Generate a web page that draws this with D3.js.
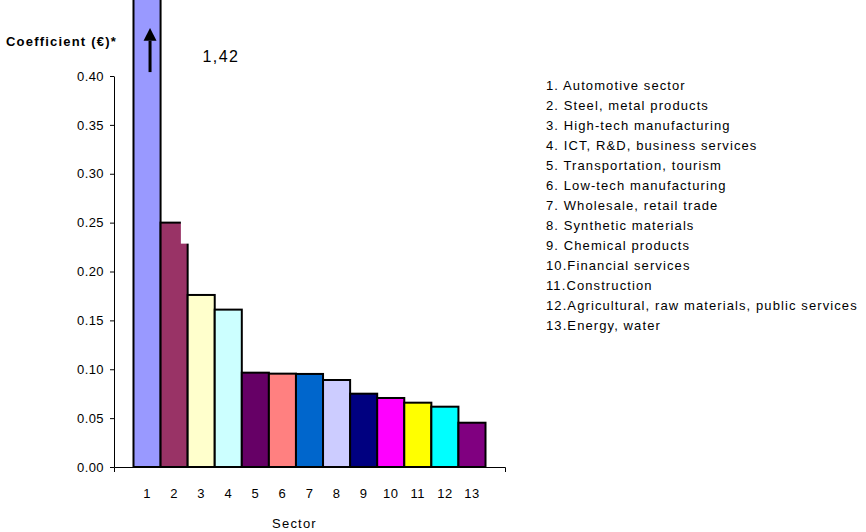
<!DOCTYPE html>
<html>
<head>
<meta charset="utf-8">
<script src="https://cdn.jsdelivr.net/npm/d3@7"></script>
<style>
  html, body { margin: 0; padding: 0; background: #fff; }
  svg { display: block; font-family: "Liberation Sans", Arial, sans-serif; }
</style>
</head>
<body>
<svg id="chart" width="866" height="532"></svg>
<script>
// ---- data ----
const sectors = ["1","2","3","4","5","6","7","8","9","10","11","12","13"];
const values = [1.42, 0.25, 0.176, 0.161, 0.0965, 0.0955, 0.0952, 0.089, 0.075, 0.0706, 0.0658, 0.0617, 0.0453];
const colors = ["#9999FF","#993366","#FFFFCC","#CCFFFF","#660066","#FF8080","#0066CC","#CCCCFF","#000080","#FF00FF","#FFFF00","#00FFFF","#800080"];
const legendLabels = [
  "1. Automotive sector",
  "2. Steel, metal products",
  "3. High-tech manufacturing",
  "4. ICT, R&D, business services",
  "5. Transportation, tourism",
  "6. Low-tech manufacturing",
  "7. Wholesale, retail trade",
  "8. Synthetic materials",
  "9. Chemical products",
  "10.Financial services",
  "11.Construction",
  "12.Agricultural, raw materials, public services",
  "13.Energy, water"
];
const yTicks = [0, 0.05, 0.10, 0.15, 0.20, 0.25, 0.30, 0.35, 0.40];
const yTitle = "Coefficient (€)*";
const xTitle = "Sector";
const bigValueLabel = "1,42";

// ---- layout ----
const svg = d3.select("#chart");
const x = d3.scaleBand().domain(sectors).range([114, 505]).paddingInner(0).paddingOuter(0.72);
const y = d3.scaleLinear().domain([0, 0.40]).range([467, 76]);
const bw = x.bandwidth();

// bars
svg.append("g").selectAll("rect").data(values).join("rect")
  .attr("x", (d, i) => x(sectors[i]))
  .attr("y", d => y(d))
  .attr("width", bw)
  .attr("height", d => y(0) - y(d))
  .attr("fill", (d, i) => colors[i])
  .attr("stroke", "#000")
  .attr("stroke-width", 2);

// white patch covering the top-right corner of bar 2 (as in the original)
svg.append("rect")
  .attr("x", x("2") + bw * 0.75)
  .attr("y", y(values[1]) - 2)
  .attr("width", bw * 0.25 + 1.5)
  .attr("height", y(0.2285) - y(values[1]) + 2)
  .attr("fill", "#fff");

// y axis
const yAxis = svg.append("g").attr("transform", "translate(114,0)")
  .call(d3.axisLeft(y).tickValues(yTicks).tickFormat(d3.format(".2f")).tickSizeInner(4).tickSizeOuter(0).tickPadding(6));
yAxis.selectAll("text").attr("font-size", 13).attr("fill", "#000").attr("font-family", "Liberation Sans, Arial, sans-serif").style("letter-spacing", "0.4px");
yAxis.select(".domain").attr("stroke", "#000");

// x axis
const xAxis = svg.append("g").attr("transform", "translate(0,467)")
  .call(d3.axisBottom(x).tickSizeInner(0).tickSizeOuter(5).tickPadding(22));
xAxis.selectAll("text").attr("font-size", 13).attr("fill", "#000").attr("font-family", "Liberation Sans, Arial, sans-serif").style("letter-spacing", "0.5px");
xAxis.select(".domain").attr("stroke", "#000");

// axis titles
svg.append("text").attr("x", 6).attr("y", 46)
  .attr("font-size", 13).attr("font-weight", "bold").style("letter-spacing", "1.2px")
  .text(yTitle);
svg.append("text").attr("x", (x.range()[0] + x.range()[1]) / 2 - 15).attr("y", 528)
  .attr("text-anchor", "middle").attr("font-size", 13).style("letter-spacing", "1.2px")
  .text(xTitle);

// arrow on bar 1 and value label
svg.append("defs").append("marker")
  .attr("id", "ah").attr("viewBox", "0 0 10 10").attr("refX", 5).attr("refY", 0)
  .attr("markerWidth", 10).attr("markerHeight", 10).attr("markerUnits", "userSpaceOnUse")
  .attr("orient", "auto-start-reverse")
  .append("path").attr("d", "M0,10 L5,0 L10,10 Z").attr("transform", "scale(1.3,1.3) translate(-1.15,0)").attr("fill", "#000");
const cx = x("1") + bw / 2 + 3;
svg.append("line")
  .attr("x1", cx).attr("x2", cx)
  .attr("y1", y(0.404)).attr("y2", y(0.436))
  .attr("stroke", "#000").attr("stroke-width", 3);
svg.append("path")
  .attr("d", `M${cx - 6.5},${y(0.436)} L${cx},${y(0.449)} L${cx + 6.5},${y(0.436)} Z`)
  .attr("fill", "#000");
svg.append("text").attr("x", x("3") + bw * 0.55).attr("y", y(0.414))
  .attr("font-size", 16).style("letter-spacing", "1.4px").text(bigValueLabel);

// legend
svg.append("g").selectAll("text").data(legendLabels).join("text")
  .attr("x", 546).attr("y", (d, i) => 90 + i * 20)
  .attr("font-size", 13).style("letter-spacing", "1.1px")
  .text(d => d);
</script>
</body>
</html>
